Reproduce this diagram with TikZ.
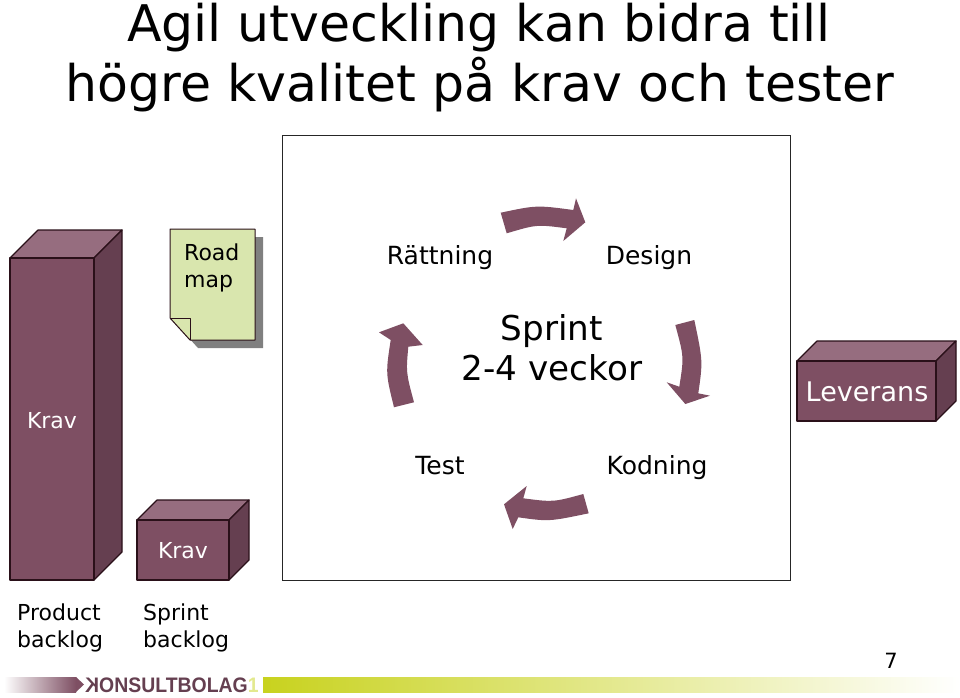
\documentclass[tikz,border=0pt]{standalone}
\usepackage{fontspec}
\setmainfont{DejaVu Sans}
\newfontfamily\logofont{Liberation Sans}
\usetikzlibrary{positioning}
\definecolor{plum}{HTML}{7E4F63}
\definecolor{plumtop}{HTML}{966D7F}
\definecolor{plumside}{HTML}{653F50}
\definecolor{plumline}{HTML}{2A1019}
\definecolor{paper}{HTML}{D9E6AE}
\definecolor{lime}{HTML}{C8D21E}

\begin{document}
\begin{tikzpicture}[
  x=1pt, y=-1pt,
  lbl/.style={font=\fontsize{25}{25}\selectfont, anchor=base, text=black},
  sml/.style={font=\fontsize{22}{22}\selectfont, anchor=base west, inner sep=0pt, text=black},
  ttl/.style={font=\fontsize{50.5}{50.5}\selectfont, anchor=base, text=black},
  big/.style={font=\fontsize{34.2}{34.2}\selectfont, anchor=base, text=black},
  blk/.style={draw=plumline, line width=1.2pt, line join=round},
  cyc/.style={fill=plum, draw=none}
]
  \useasboundingbox (0,0) rectangle (960,697);

  \node[ttl] (title1) at (479,41) {Agil utveckling kan bidra till};
  \node[ttl] (title2) at (480,101.5) {högre kvalitet på krav och tester};

  \draw[line width=1pt, black!85] (282,135) rectangle (790,580);

  % blocks: left/top/right/bottom of the front face
  \foreach \l/\t/\r/\b in {10/258/94/580, 137/520/229/580, 797/361/936/421} {
    \pgfmathsetmacro{\d}{(\l==10) ? 28 : 20}
    \fill[plum] (\l,\t) rectangle (\r,\b);
    \draw[blk, fill=plumtop] (\l,\t) -- ++(\d,-\d) -- ++(\r-\l,0) -- (\r,\t) -- cycle;
    \draw[blk, fill=plumside] (\r,\t) -- ++(\d,-\d) -- ++(0,\b-\t) -- (\r,\b) -- cycle;
    \draw[blk] (\l,\t) rectangle (\r,\b);
  }

  % road map sheet
  \fill[black!50] (178,237) -- (263,237) -- (263,348) -- (198,348) -- (178,326) -- cycle;
  \draw[blk, line width=1pt, fill=paper] (170,229) -- (255,229) -- (255,340) -- (190,340) -- (170,318) -- cycle;
  \draw[blk, line width=1pt] (170,318) -- (190,318) -- (190,340);

  % cycle arrows
  \fill[cyc] (500.7,212.7) .. controls (536.6,205.1) .. (573.3,210) -- (576,198.3) -- (585.3,222.3)
    -- (563.3,241) -- (566.7,228.3) .. controls (536.7,224.4) .. (506.7,233.3) -- cycle;
  \fill[cyc] (694.3,320) .. controls (702.9,361.1) .. (698.3,393.3) -- (710,395.7) -- (685.3,404)
    -- (666.7,382.3) -- (679.3,386.7) .. controls (684,356.9) .. (675.3,325) -- cycle;
  \fill[cyc] (588.7,513.3) .. controls (548.8,521.6) .. (518.3,517.3) -- (512.7,529) -- (504,504.3)
    -- (526.7,486) -- (523.3,498.3) .. controls (553.3,502.2) .. (583.3,494) -- cycle;
  \fill[cyc] (414,402.3) .. controls (406,372.5) .. (408.3,346.7) -- (422.7,345) -- (403.3,323.3)
    -- (379,332.3) -- (390.7,340) .. controls (385.6,373.2) .. (394,407.3) -- cycle;

  \node[lbl] (ratt) at (440,264.5) {Rättning};
  \node[lbl] (design) at (649,264.5) {Design};
  \node[lbl] (test) at (440,474) {Test};
  \node[lbl] (kod) at (657,474) {Kodning};
  \node[big] (sprint) at (552,340.5) {Sprint};
  \node[big] (veckor) at (552,380.5) {2-4 veckor};

  \node[sml, anchor=base, text=white] (krav1) at (52,428) {Krav};
  \node[sml, anchor=base, text=white] (krav2) at (183,558.5) {Krav};
  \node[lbl, text=white, font=\fontsize{27}{27}\selectfont] (lev) at (867,401.5) {Leverans};

  \node[sml] (road) at (184,260) {Road};
  \node[sml] (map) at (184,287) {map};
  \node[sml] (prod) at (17,620.5) {Product};
  \node[sml] (back1) at (17,647.5) {backlog};
  \node[sml] (spr) at (143,620.5) {Sprint};
  \node[sml] (back2) at (143,647.5) {backlog};

  \node[lbl, font=\fontsize{21}{21}\selectfont] (page) at (891,668) {7};

  % footer
  \shade[left color=white, right color=plum] (4,677) rectangle (76,692);
  \fill[plum] (76,677) -- (84,684.5) -- (76,692) -- cycle;
  \shade[left color=lime, right color=white] (263,677) rectangle (960,692);
  \node[anchor=base west, inner sep=0pt, xscale=.925, text=plumside, font=\logofont\bfseries\fontsize{21}{21}\selectfont] (logo) at (85,692)
    {\reflectbox{K}ONSULTBOLAG\textcolor{lime!50}{1}};
\end{tikzpicture}
\end{document}
